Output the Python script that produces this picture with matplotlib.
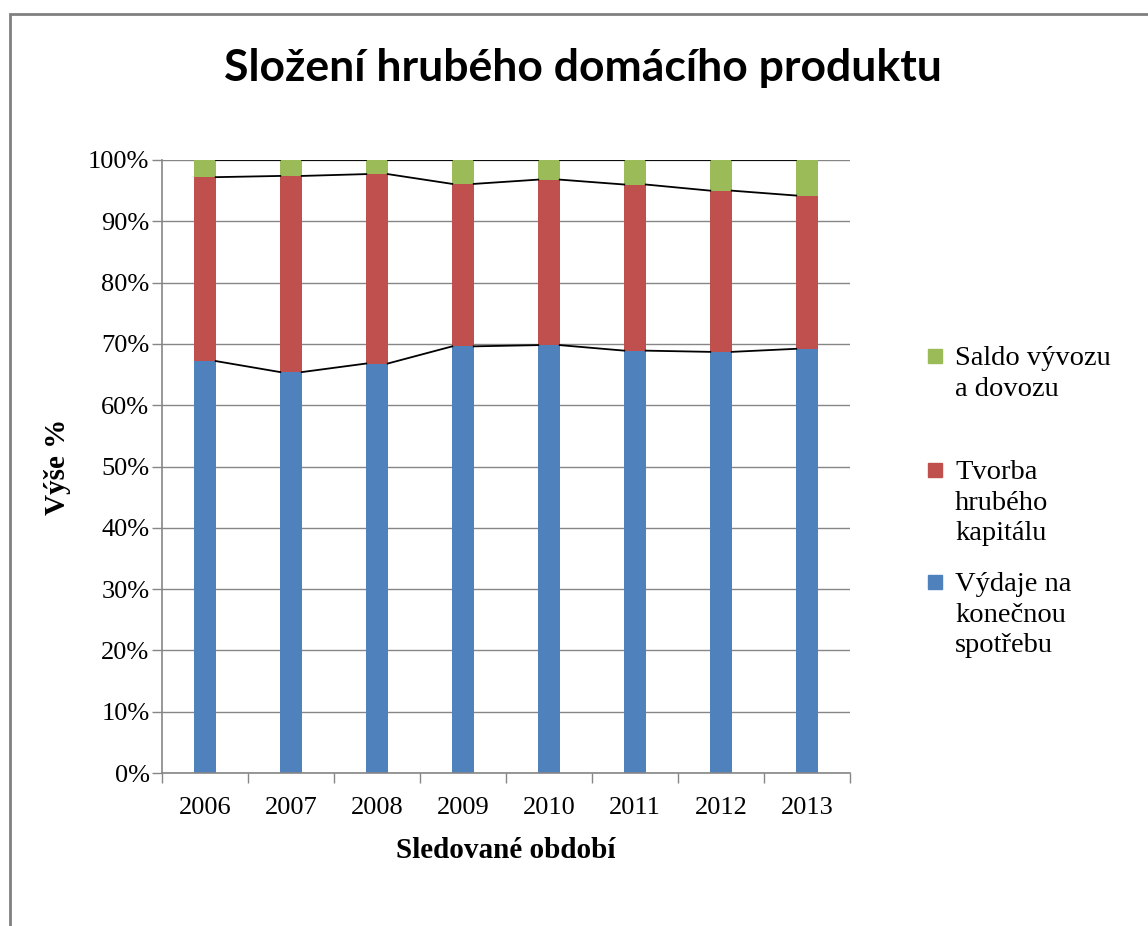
import numpy as np
import matplotlib.pyplot as plt
from matplotlib.patches import Rectangle

years = ['2006', '2007', '2008', '2009', '2010', '2011', '2012', '2013']
# shares of GDP in percent
spotreba = [67.2, 65.4, 66.8, 69.6, 69.8, 68.9, 68.7, 69.2]
kapital = [30.0, 32.0, 30.9, 26.5, 27.0, 27.1, 26.3, 25.0]
saldo = [2.8, 2.6, 2.3, 3.9, 3.2, 4.0, 5.0, 5.8]

series = [
    ('Výdaje na\nkonečnou\nspotřebu', spotreba, '#4F81BD'),
    ('Tvorba\nhrubého\nkapitálu', kapital, '#C0504D'),
    ('Saldo vývozu\na dovozu', saldo, '#9BBB59'),
]

W, H = 1148, 926
fig = plt.figure(figsize=(W / 100, H / 100), dpi=100)
ax = fig.add_axes([162 / W, 1 - 773 / H, (850 - 162) / W, (773 - 160) / H])

x = np.arange(len(years))
width = 0.25
bottom = np.zeros(len(years))
for name, vals, color in series:
    vals = np.array(vals)
    ax.bar(x, vals, width, bottom=bottom, color=color, zorder=2)
    bottom = bottom + vals
    # series lines between bar tops
    for i in range(len(years) - 1):
        ax.plot([x[i] + width / 2, x[i + 1] - width / 2], [bottom[i], bottom[i + 1]],
                color='black', lw=1.3, zorder=3)

ax.set_xlim(-0.5, len(years) - 0.5)
ax.set_ylim(0, 100)
ax.set_yticks(np.arange(0, 101, 10))
ax.set_yticklabels([f'{v}%' for v in range(0, 101, 10)])
ax.set_xticks(x)
ax.set_xticklabels(years)
ax.set_xticks(np.arange(-0.5, len(years), 1), minor=True)
ax.tick_params(axis='x', which='major', length=0, pad=17)
ax.tick_params(axis='x', which='minor', length=7, color='#868686', width=1)
ax.tick_params(axis='y', length=7, color='#868686', width=1, pad=2)
for lab in ax.get_xticklabels() + ax.get_yticklabels():
    lab.set_fontfamily('Liberation Serif')
    lab.set_fontsize(19)

ax.grid(axis='y', color='#868686', lw=1, zorder=0)
ax.set_axisbelow(True)
for s in ['top', 'right']:
    ax.spines[s].set_visible(False)
for s in ['left', 'bottom']:
    ax.spines[s].set_color('#868686')
    ax.spines[s].set_linewidth(1.2)

ax.set_xlabel('Sledované období', fontfamily='Liberation Serif', fontweight='bold',
              fontsize=21, labelpad=13)
ax.set_ylabel('Výše %', fontfamily='Liberation Serif', fontweight='bold',
              fontsize=21, labelpad=12)

fig.text(583 / W, 1 - 68 / H, 'Složení hrubého domácího produktu', ha='center', va='center',
         fontfamily='Lato', fontweight='bold', fontsize=32)

# legend, drawn by hand to follow the reference spacing
leg_y = [356, 470, 582]
for (name, vals, color), yy in zip(series[::-1], leg_y):
    fig.add_artist(Rectangle((928 / W, 1 - (yy + 7) / H), 14 / W, 14 / H,
                             transform=fig.transFigure, color=color))
    fig.text(955 / W, 1 - (yy - 10) / H, name, ha='left', va='top', linespacing=1.3,
             fontfamily='Liberation Serif', fontsize=20.5)

# outer chart border
fig.add_artist(Rectangle((9.5 / W, -0.1), 1.2, 1 - 13.5 / H + 0.1, transform=fig.transFigure,
                         fill=False, edgecolor='#808080', lw=2))

fig.savefig('out.png', dpi=100)
